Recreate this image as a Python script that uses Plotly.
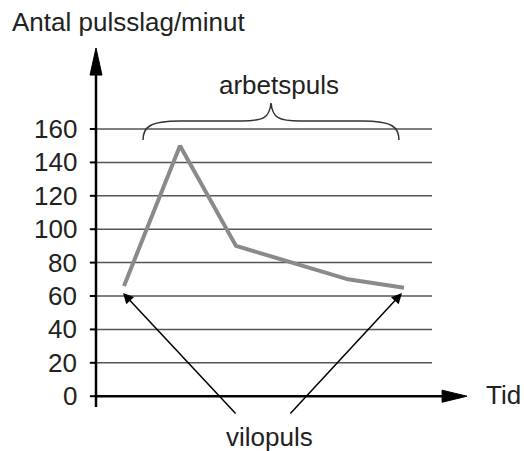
import plotly.graph_objects as go

# ---- data ----
tid = [0.5, 1.5, 2.5, 4.5, 5.5]
puls = [66, 150, 90, 70, 65]
y_ticks = [0, 20, 40, 60, 80, 100, 120, 140, 160]
y_tick_labels = [str(v) for v in y_ticks]

title_text = "Antal pulsslag/minut"
x_label = "Tid"
work_label = "arbetspuls"
rest_label = "vilopuls"

FONT = "Liberation Sans, Arial, sans-serif"
fs = 26

fig = go.Figure()
fig.add_trace(go.Scatter(x=tid, y=puls, mode="lines",
                         line=dict(color="#8a8a8a", width=4),
                         hoverinfo="skip", showlegend=False))

shapes = []
annotations = []

# gridlines, ticks, tick labels
for v, lab in zip(y_ticks, y_tick_labels):
    if v != 0:
        shapes.append(dict(type="line", xref="x", yref="y", x0=0, x1=6, y0=v, y1=v,
                           line=dict(color="#555555", width=1.5), layer="below"))
    shapes.append(dict(type="line", xref="x", yref="y", x0=-0.11, x1=0, y0=v, y1=v,
                       line=dict(color="black", width=2)))
    annotations.append(dict(x=-0.31, y=v, xref="x", yref="y", text=lab, showarrow=False,
                            xanchor="right", yanchor="middle",
                            font=dict(size=fs, color="#222", family=FONT)))

# x axis with arrow
shapes.append(dict(type="line", xref="x", yref="y", x0=0, x1=6.2, y0=0, y1=0,
                   line=dict(color="black", width=2.5)))
shapes.append(dict(type="path", xref="x", yref="y",
                   path="M 6.18,3.6 L 6.625,0 L 6.18,-3.6 Z",
                   fillcolor="black", line=dict(color="black", width=1)))
# y axis with arrow
shapes.append(dict(type="line", xref="x", yref="y", x0=0, x1=0, y0=-6.5, y1=193,
                   line=dict(color="black", width=2.5)))
shapes.append(dict(type="path", xref="x", yref="y",
                   path="M -0.107,192.3 L 0,208.5 L 0.107,192.3 Z",
                   fillcolor="black", line=dict(color="black", width=1)))

# curly brace
shapes.append(dict(type="path", xref="x", yref="y",
                   path=("M 0.84,153.4 C 0.84,161 0.95,164.8 1.5,164.8 "
                         "L 2.6,164.8 C 3.0,164.8 3.1,167 3.125,175.6 "
                         "C 3.15,167 3.25,164.8 3.65,164.8 "
                         "L 4.75,164.8 C 5.3,164.8 5.41,161 5.41,153.4"),
                   line=dict(color="#333333", width=1.5)))

# texts
annotations.append(dict(x=-1.536, y=224.1, xref="x", yref="y", text=title_text,
                        showarrow=False, xanchor="left", yanchor="middle",
                        font=dict(size=fs, color="#222", family=FONT)))
annotations.append(dict(x=6.92, y=0.5, xref="x", yref="y", text=x_label,
                        showarrow=False, xanchor="left", yanchor="middle",
                        font=dict(size=fs, color="#222", family=FONT)))
annotations.append(dict(x=3.27, y=186.3, xref="x", yref="y", text=work_label,
                        showarrow=False, xanchor="center", yanchor="middle",
                        font=dict(size=fs, color="#222", family=FONT)))
annotations.append(dict(x=3.107, y=-24.4, xref="x", yref="y", text=rest_label,
                        showarrow=False, xanchor="center", yanchor="middle",
                        font=dict(size=fs, color="#222", family=FONT)))

# vilopuls arrows pointing at first and last data points
for (tx, ty), (sx, sy) in [((tid[0] - 0.018, puls[0] - 4.2), (2.518, -11.3)),
                           ((tid[-1] - 0.036, puls[-1] - 3.2), (3.446, -11.3))]:
    annotations.append(dict(x=tx, y=ty, ax=sx, ay=sy, xref="x", yref="y",
                            axref="x", ayref="y", text="", showarrow=True,
                            arrowhead=2, arrowsize=1.4, arrowwidth=1.5,
                            arrowcolor="black"))

fig.update_layout(
    width=524, height=451,
    margin=dict(l=0, r=0, t=0, b=0),
    paper_bgcolor="white", plot_bgcolor="white",
    xaxis=dict(visible=False, range=[-1.7143, 7.6429], fixedrange=True),
    yaxis=dict(visible=False, range=[-32.81, 237.25], fixedrange=True),
    shapes=shapes, annotations=annotations, showlegend=False,
)

fig.write_html("out.html", config=dict(displayModeBar=False),
               post_script="document.body.style.margin='0px';"
                           "document.body.style.overflow='hidden';")
